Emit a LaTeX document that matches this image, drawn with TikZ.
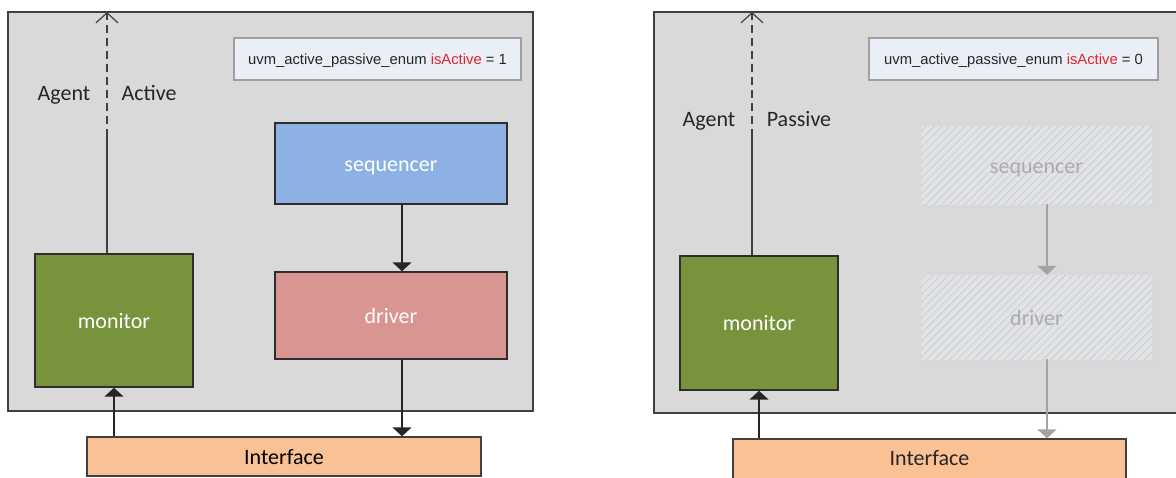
\documentclass[tikz,border=0pt]{standalone}
\usepackage{fontspec}
\setmainfont{Carlito}
\newfontfamily\arialfont{Liberation Sans}
\usetikzlibrary{arrows.meta,patterns.meta}

\definecolor{panelbg}{HTML}{D9D9D9}
\definecolor{panelrule}{HTML}{404040}
\definecolor{notefill}{HTML}{E9EEF7}
\definecolor{noterule}{HTML}{A0A0A0}
\definecolor{notetext}{HTML}{262626}
\definecolor{seqblue}{HTML}{8DB1E3}
\definecolor{drvred}{HTML}{D99592}
\definecolor{mongreen}{HTML}{77933C}
\definecolor{ifcorange}{HTML}{FAC195}
\definecolor{boxrule}{HTML}{2E2E2E}
\definecolor{flagred}{HTML}{E0262B}
\definecolor{ghostfill}{HTML}{E3E3E3}
\definecolor{ghosthatch}{HTML}{C6D0E0}
\definecolor{ghosttext}{HTML}{ABABAB}
\definecolor{ghostline}{HTML}{A3A3A3}

\begin{document}
\begin{tikzpicture}[x=1pt,y=-1pt,
  txt/.style={text height=15pt,text depth=0pt},
  panel/.style={draw=panelrule,fill=panelbg,line width=1.4pt},
  note/.style={draw=noterule,fill=notefill,line width=1.4pt,inner sep=0pt,
    text=notetext,font=\arialfont\fontsize{14.8}{18}\selectfont,
    text height=10.5pt,text depth=0pt},
  block/.style={draw=boxrule,line width=1.4pt,inner sep=0pt,
    text=white,font=\fontsize{22}{26}\selectfont,txt},
  ghost/.style={inner sep=0pt,text=ghosttext,
    font=\fontsize{22}{26}\selectfont,txt,
    preaction={fill=ghostfill},
    pattern={Lines[angle=45,distance=5.5pt,line width=0.9pt]},
    pattern color=ghosthatch},
  iface/.style={draw=panelrule,fill=ifcorange,line width=1.4pt,inner sep=0pt,
    font=\fontsize{22}{26}\selectfont,txt},
  tag/.style={inner sep=0pt,font=\fontsize{22}{26}\selectfont,
    txt,text=black!85},
  flow/.style={line width=1.6pt,draw=black!85,-{Triangle[width=19pt,length=9pt]}},
  ghostflow/.style={line width=1.4pt,draw=ghostline,
    -{Triangle[width=19pt,length=9pt]}},
  uplink/.style={line width=1.3pt,draw=black!75},
  updash/.style={line width=1.3pt,draw=black!75,dash pattern=on 8pt off 5pt,
    -{Straight Barb[width=22pt,length=10pt,line width=1.2pt]}}
]
\clip (0,0) rectangle (1176,477);
\fill[white] (0,0) rectangle (1176,477);

% ---------- active agent ----------
\node[panel,minimum width=525pt,minimum height=399pt] (agA) at (270.5,211.5) {};
\node[note,minimum width=287pt,minimum height=42pt] (noteA) at (377.5,59)
  {uvm\_active\_passive\_enum \textcolor{flagred}{isActive} = 1};
\node[block,fill=seqblue,minimum width=232pt,minimum height=81pt] (seqA) at (391,163.5) {sequencer};
\node[block,fill=drvred,minimum width=232pt,minimum height=87pt] (drvA) at (391,315.5) {driver};
\node[block,fill=mongreen,minimum width=158pt,minimum height=133pt] (monA) at (114,320.5) {monitor};
\node[iface,minimum width=394pt,minimum height=39pt] (ifA) at (284,456.5) {Interface};
\node[tag] (agentA) at (64,93) {Agent};
\node[tag] (modeA) at (149,93) {Active};

\coordinate (colA) at (402,0);
\coordinate (upA) at (107,0);
\coordinate (brkA) at (107,137);
\coordinate (topA) at (107,12);
\draw[flow] (seqA.south -| colA) -- (drvA.north -| colA);
\draw[flow] (drvA.south -| colA) -- (ifA.north -| colA);
\draw[flow] (ifA.north -| monA.south) -- (monA.south);
\draw[uplink] (monA.north -| upA) -- (brkA);
\draw[updash] (brkA) -- (topA);

% ---------- passive agent ----------
\node[panel,minimum width=536pt,minimum height=401pt] (agP) at (922,212.5) {};
\node[note,minimum width=289pt,minimum height=42pt] (noteP) at (1013.5,59)
  {uvm\_active\_passive\_enum \textcolor{flagred}{isActive} = 0};
\node[ghost,minimum width=231pt,minimum height=79pt] (seqP) at (1036.5,165.5) {sequencer};
\node[ghost,minimum width=231pt,minimum height=85pt] (drvP) at (1036.5,317.5) {driver};
\node[block,fill=mongreen,minimum width=158pt,minimum height=134pt] (monP) at (759,323) {monitor};
\node[iface,minimum width=393pt,minimum height=41pt] (ifP) at (929.5,459.5) {};
\node[tag] (ifPtext) at (929.5,458) {Interface};
\node[tag] (agentP) at (709,119) {Agent};
\node[tag] (modeP) at (799,119) {Passive};

\coordinate (colP) at (1047,0);
\coordinate (upP) at (752,0);
\coordinate (brkP) at (752,137);
\coordinate (topP) at (752,12);
\draw[ghostflow] ([yshift=1pt]seqP.south -| colP) -- (drvP.north -| colP);
\draw[ghostflow] ([yshift=1pt]drvP.south -| colP) -- (ifP.north -| colP);
\draw[flow] (ifP.north -| monP.south) -- (monP.south);
\draw[uplink] (monP.north -| upP) -- (brkP);
\draw[updash] (brkP) -- (topP);
\end{tikzpicture}
\end{document}
